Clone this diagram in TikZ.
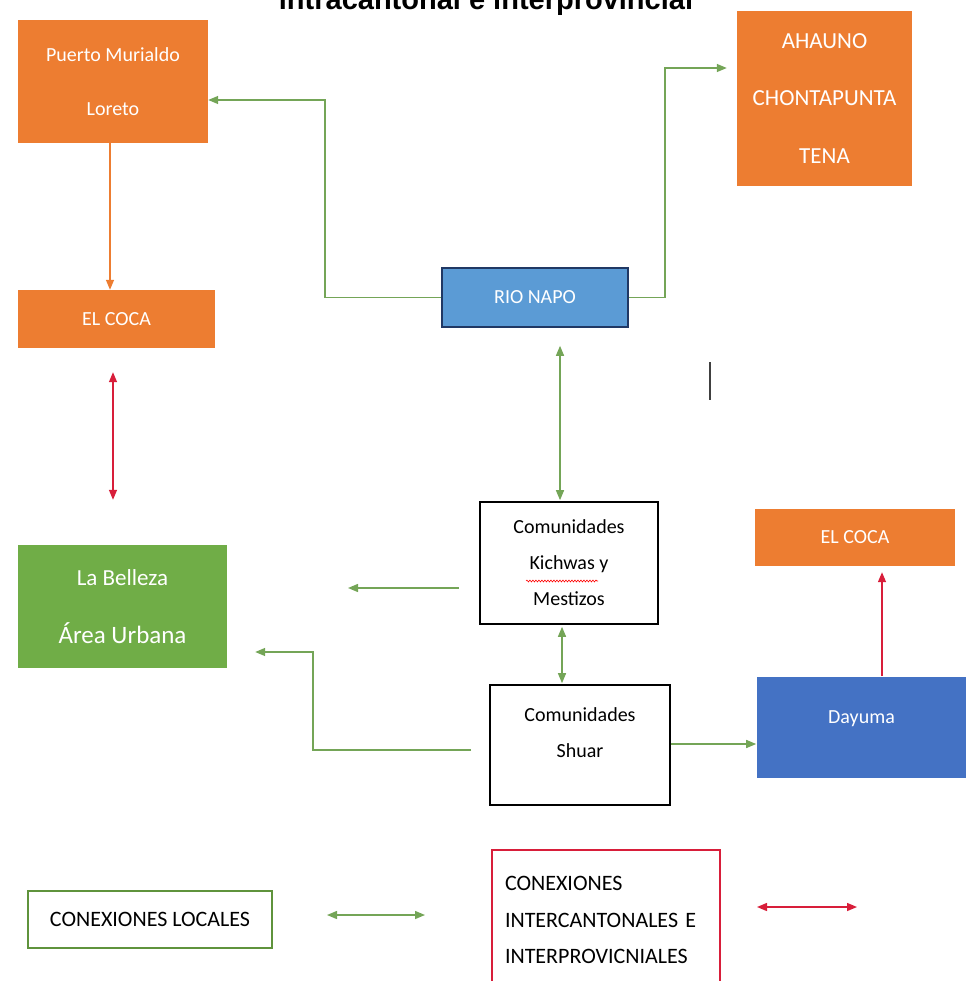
\documentclass[tikz,border=0pt]{standalone}
\usepackage{fontspec}
\setmainfont{Carlito}
\newfontfamily\titlefont{Liberation Sans}
\usetikzlibrary{arrows.meta,decorations.pathmorphing}
\definecolor{cOrange}{HTML}{ED7D31}
\definecolor{cBlueA}{HTML}{5B9BD5}
\definecolor{cBlueB}{HTML}{4472C4}
\definecolor{cNavy}{HTML}{203864}
\definecolor{cGreen}{HTML}{70AD47}
\definecolor{cGreenLine}{HTML}{74A557}
\definecolor{cRed}{HTML}{D81E3A}

\begin{document}
\begin{tikzpicture}[
    x=1pt, y=-1pt,
    orangebox/.style={fill=cOrange, text=white, align=center, inner sep=0pt, font=\fontsize{20}{58}\selectfont},
    bluebox/.style={fill=cBlueA, draw=cNavy, line width=1.6pt, text=white, align=center, inner sep=0pt, font=\fontsize{20}{24}\selectfont},
    greenbox/.style={fill=cGreen, text=white, align=center, inner sep=0pt, font=\fontsize{25}{58}\selectfont},
    wbox/.style={draw=black, line width=1.6pt, fill=white, align=center, inner sep=0pt, font=\fontsize{20}{36}\selectfont},
    legbox/.style={fill=white, line width=1.2pt, inner sep=0pt, font=\fontsize{22}{36.5}\selectfont},
    garrow/.style={-{Triangle[length=10pt,width=8pt]}, draw=cGreenLine, line width=1.4pt},
    gdarrow/.style={{Triangle[length=10pt,width=8pt]}-{Triangle[length=10pt,width=8pt]}, draw=cGreenLine, line width=1.4pt},
    oarrow/.style={-{Triangle[length=10pt,width=8pt]}, draw=cOrange, line width=1.4pt},
    rarrow/.style={-{Triangle[length=10pt,width=8pt]}, draw=cRed, line width=1.4pt},
    rdarrow/.style={{Triangle[length=10pt,width=8pt]}-{Triangle[length=10pt,width=8pt]}, draw=cRed, line width=1.4pt}
]
\useasboundingbox (0,0) rectangle (966,981);
\clip (0,0) rectangle (966,981);

% title, cut at the top
\node[anchor=base, font=\titlefont\bfseries\fontsize{29}{30}\selectfont] (title) at (486,10) {intracantonal e interprovincial};

% boxes
\node[orangebox, minimum width=190pt, minimum height=123pt] (puerto) at (113,81.5) {Puerto Murialdo\\[-4pt]Loreto};
\node[orangebox, minimum width=197pt, minimum height=58pt] (cocaA) at (116.5,319) {EL COCA};
\node[orangebox, minimum width=175pt, minimum height=175pt, font=\fontsize{23}{57.5}\selectfont] (ahauno) at (824.5,98.5) {AHAUNO\\CHONTAPUNTA\\TENA};
\node[bluebox, minimum width=186pt, minimum height=59pt] (rionapo) at (535,297.5) {RIO NAPO};
\node[wbox, minimum width=178pt, minimum height=122pt] (kichwa) at (569,563) {Comunidades\\Kichwas y\\Mestizos};
\node[greenbox, minimum width=209pt, minimum height=123pt] (belleza) at (122.5,606.5) {{\fontsize{23}{58}\selectfont La Belleza}\\Área Urbana};
\node[wbox, minimum width=180pt, minimum height=120pt] (shuar) at (580,745) {Comunidades\\Shuar\\[-12pt]\mbox{}};
\node[orangebox, minimum width=200pt, minimum height=57pt] (cocaB) at (855,537.5) {EL COCA};
\node[bluebox, fill=cBlueB, draw=none, minimum width=209pt, minimum height=101pt] (dayuma) at (861.5,727.5) {Dayuma\\[-3pt]\mbox{}};

% legend
\node[legbox, draw=cGreen!85!black, minimum width=244pt, minimum height=57pt] (locales) at (150,919.5) {CONEXIONES LOCALES};
\node[legbox, draw=cRed, minimum width=228pt, minimum height=140pt, text width=202pt, inner xsep=13pt, align=left] (inter) at (606,920) {CONEXIONES\\INTERCANTONALES E\\INTERPROVICNIALES};

% spell-check mark
\draw[red, line width=0.6pt, decorate, decoration={snake, amplitude=0.9pt, segment length=3pt}] (526,581) -- (598,581);
% stray cursor mark
\draw[black!75, line width=1.5pt] (710,362) -- (710,400);

% connectors
\draw[garrow] (rionapo.west) -| (325,100) -- (puerto.east |- 0,100);
\draw[garrow] (rionapo.east) -| (665,68) -- ([xshift=-10pt]ahauno.west |- 0,68);
\draw[oarrow] (puerto.south -| 110,0) -- (cocaA.north -| 110,0);
\draw[rdarrow] ([yshift=-24pt]cocaA.south -| 113,0) -- ([yshift=45pt]belleza.north -| 113,0);
\draw[gdarrow] ([yshift=-18pt]rionapo.south -| 560,0) -- ([yshift=1pt]kichwa.north -| 560,0);
\coordinate (kfree) at (348,588);
\draw[garrow] ([xshift=-20pt]kichwa.west |- kfree) -- (kfree);
\draw[gdarrow] ([yshift=-2pt]kichwa.south -| 562,0) -- ([yshift=1pt]shuar.north -| 562,0);
\draw[garrow] ([xshift=-18pt]shuar.west |- 0,750) -| (313,652) -- ([xshift=28pt]belleza.east |- 0,652);
\draw[garrow] (shuar.east |- 0,744) -- (dayuma.west |- 0,744);
\draw[rarrow] (dayuma.north -| 882,0) -- ([yshift=-6pt]cocaB.south -| 882,0);

% legend arrows
\coordinate (gl) at (327,915);
\coordinate (gr) at (425,915);
\draw[gdarrow] (gl) -- (gr);
\coordinate (rl) at (757,907);
\coordinate (rr) at (857,907);
\draw[rdarrow] (rl) -- (rr);
\end{tikzpicture}
\end{document}
